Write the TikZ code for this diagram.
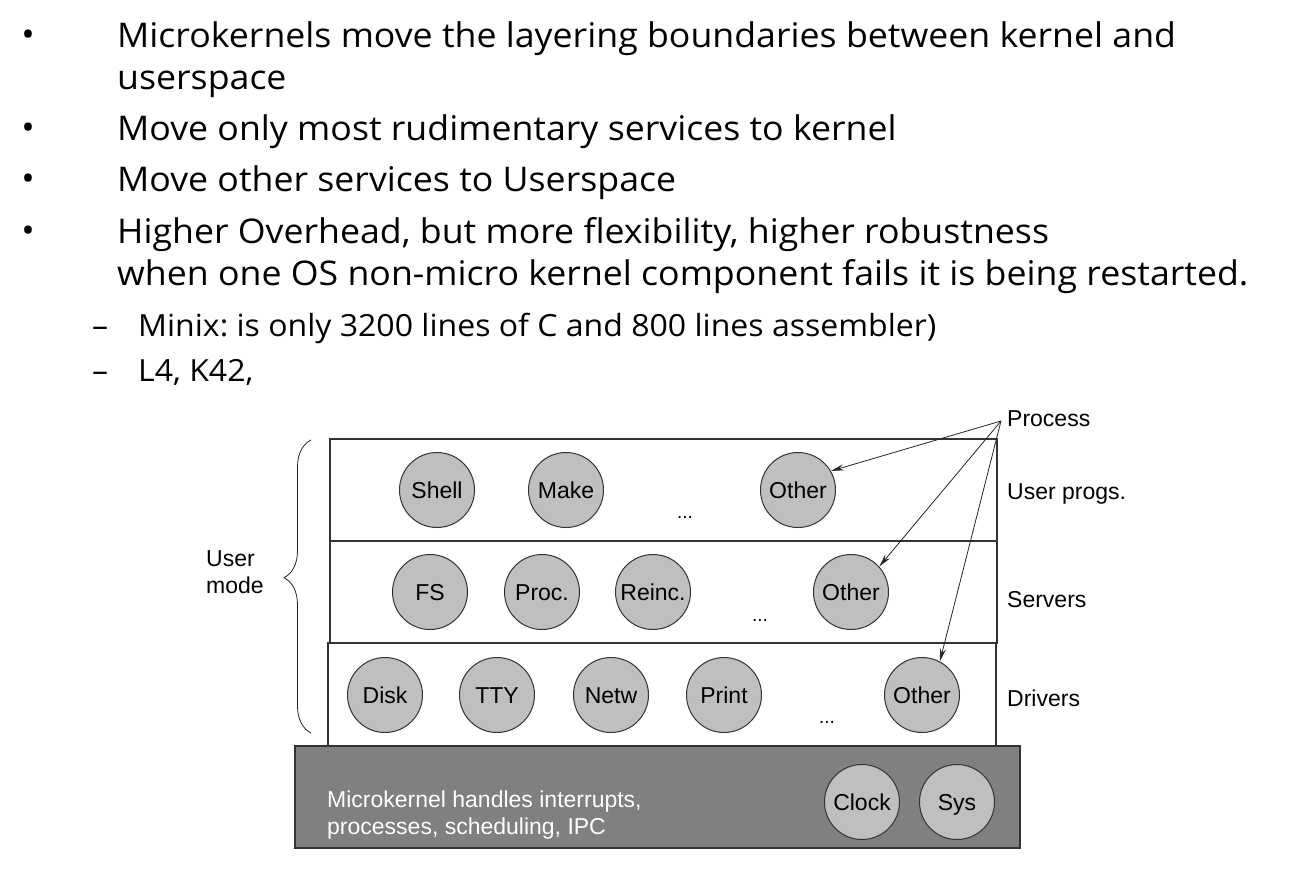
\documentclass[tikz,border=0pt]{standalone}
\usepackage{fontspec}
\setmainfont{Open Sans}[FakeStretch=1.05]
\newfontfamily\diagfont{Liberation Sans}
\usetikzlibrary{arrows.meta,decorations.pathreplacing}
\frenchspacing
\begin{document}
\begin{tikzpicture}[x=1pt,y=-1pt,
  bul/.style={anchor=base west, inner sep=0, font=\fontsize{34}{40}\selectfont},
  subb/.style={anchor=base west, inner sep=0, font=\fontsize{30.5}{36}\selectfont},
  dotmark/.style={anchor=base, inner sep=0, font=\fontsize{34}{40}\selectfont},
  layer/.style={draw=black!80, line width=1.2pt},
  procc/.style={circle, draw=black!80, fill=black!25, line width=1pt, minimum size=75pt, inner sep=0pt, text height=16.5pt, text depth=0pt, font=\diagfont\fontsize{23}{26}\selectfont},
  lbl/.style={anchor=west, inner sep=0, font=\diagfont\fontsize{23}{26}\selectfont},
  ellip/.style={anchor=base, inner sep=0, font=\diagfont\fontsize{19}{22}\selectfont},
  arr/.style={-{Stealth[length=13pt,width=6pt]}, line width=0.8pt, black!85}]
\fill[white] (0,0) rectangle (1312,870);
\useasboundingbox (0,0) rectangle (1312,870);

% bullet text
\node[dotmark] (b1) at (28,46) {•};
\node[bul] (t1) at (117,47) {Microkernels move the layering boundaries between kernel and};
\node[bul] (t2) at (117,89) {userspace};
\node[dotmark] (b2) at (28,139) {•};
\node[bul] (t3) at (117,140) {Move only most rudimentary services to kernel};
\node[dotmark] (b3) at (28,190) {•};
\node[bul] (t4) at (117,191) {Move other services to Userspace};
\node[dotmark] (b4) at (28,242) {•};
\node[bul] (t5) at (117,243) {Higher Overhead, but more flexibility, higher robustness};
\node[bul] (t6) at (117,285) {when one OS non-micro kernel component fails it is being restarted.};
\node[subb] (d1) at (92,336) {–};
\node[subb] (t7) at (138,336) {Minix: is only 3200 lines of C and 800 lines assembler)};
\node[subb] (d2) at (92,381) {–};
\node[subb] (t8) at (138,381) {L4, K42,};

% layers
\draw[layer] (330,439) rectangle (997,541);
\draw[layer] (330,541) rectangle (997,643);
\draw[layer] (328,643) rectangle (996,746);
\draw[layer, fill=black!50] (295,746) rectangle (1020,848);

% user programs
\node[procc] (shell) at (437,490) {Shell};
\node[procc] (make) at (566,490) {Make};
\node[ellip] (e1) at (685,518) {...};
\node[procc] (oU) at (798,490) {Other};
% servers
\node[procc] (fs) at (430,592) {FS};
\node[procc] (pr) at (542,592) {Proc.};
\node[procc] (re) at (653,592) {Reinc.};
\node[ellip] (e2) at (760,621) {...};
\node[procc] (oS) at (851,592) {Other};
% drivers
\node[procc] (disk) at (385,695) {Disk};
\node[procc] (tty) at (497,695) {TTY};
\node[procc] (netw) at (611,695) {Netw};
\node[procc] (print) at (724,695) {Print};
\node[ellip] (e3) at (827,723) {...};
\node[procc] (oD) at (922,695) {Other};
% kernel
\node[procc] (clock) at (862,802) {Clock};
\node[procc] (sys) at (957,802) {Sys};
\node[anchor=west, align=left, inner sep=0, text=white, font=\diagfont\fontsize{23}{27}\selectfont] (mk) at (327,815) {Microkernel handles interrupts,\\processes, scheduling, IPC};

% right labels
\node[lbl] (plab) at (1007,419) {Process};
\node[lbl] (up) at (1007,494) {User progs.};
\node[lbl] (sv) at (1007,600) {Servers};
\node[lbl] (dr) at (1007,698) {Drivers};
\coordinate (pa) at (1001,421);
\draw[arr] (pa) -- (oU.30);
\draw[arr] (pa) -- (oS.42);
\draw[arr] (pa) -- (oD.62);

% user mode brace
\node[anchor=west, align=left, inner sep=0, font=\diagfont\fontsize{23}{27}\selectfont] (um) at (206,572) {User\\mode};
\draw[decorate, decoration={brace, amplitude=27pt, aspect=0.53}, line width=0.8pt, black!85] (311,733) -- (311,440);
\end{tikzpicture}
\end{document}
